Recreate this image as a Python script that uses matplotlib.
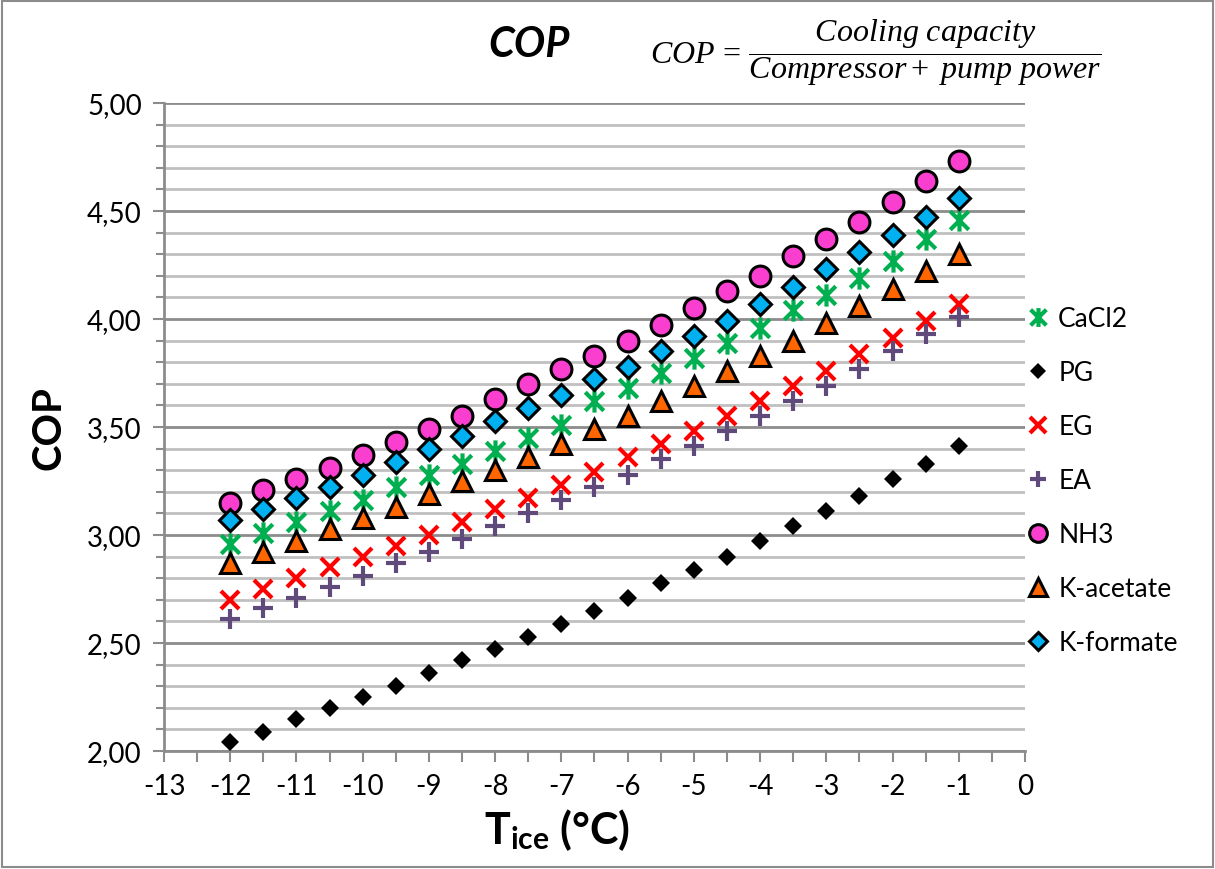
import matplotlib
matplotlib.use("Agg")
import matplotlib.pyplot as plt
from matplotlib.path import Path
from matplotlib.patches import Rectangle
from matplotlib.ticker import MultipleLocator, FuncFormatter

plt.rcParams['font.family'] = ['Lato', 'DejaVu Sans']
plt.rcParams['mathtext.fontset'] = 'custom'
plt.rcParams['mathtext.it'] = 'Liberation Serif:italic'
plt.rcParams['mathtext.rm'] = 'Liberation Serif'
plt.rcParams['mathtext.bf'] = 'Lato:bold'

# Ice temperature (°C)
t_ice = [-12, -11.5, -11, -10.5, -10, -9.5, -9, -8.5, -8, -7.5, -7, -6.5,
         -6, -5.5, -5, -4.5, -4, -3.5, -3, -2.5, -2, -1.5, -1]

cop_cacl2 = [2.96, 3.01, 3.06, 3.11, 3.16, 3.22, 3.28, 3.33, 3.39, 3.45, 3.51, 3.62,
             3.68, 3.75, 3.82, 3.89, 3.96, 4.04, 4.11, 4.19, 4.27, 4.37, 4.46]
cop_pg = [2.04, 2.09, 2.15, 2.20, 2.25, 2.30, 2.36, 2.42, 2.47, 2.53, 2.59, 2.65,
          2.71, 2.78, 2.84, 2.90, 2.97, 3.04, 3.11, 3.18, 3.26, 3.33, 3.41]
cop_eg = [2.70, 2.75, 2.80, 2.85, 2.90, 2.95, 3.00, 3.06, 3.12, 3.17, 3.23, 3.29,
          3.36, 3.42, 3.48, 3.55, 3.62, 3.69, 3.76, 3.84, 3.91, 3.99, 4.07]
cop_ea = [2.61, 2.66, 2.71, 2.76, 2.81, 2.87, 2.92, 2.98, 3.04, 3.10, 3.16, 3.22,
          3.28, 3.35, 3.41, 3.48, 3.55, 3.62, 3.69, 3.77, 3.85, 3.93, 4.01]
cop_nh3 = [3.15, 3.21, 3.26, 3.31, 3.37, 3.43, 3.49, 3.55, 3.63, 3.70, 3.77, 3.83,
           3.90, 3.97, 4.05, 4.13, 4.20, 4.29, 4.37, 4.45, 4.54, 4.64, 4.73]
cop_kacetate = [2.87, 2.92, 2.97, 3.03, 3.08, 3.13, 3.19, 3.25, 3.30, 3.36, 3.42, 3.49,
                3.55, 3.62, 3.69, 3.76, 3.83, 3.90, 3.98, 4.06, 4.14, 4.22, 4.30]
cop_kformate = [3.07, 3.12, 3.17, 3.22, 3.28, 3.34, 3.40, 3.46, 3.53, 3.59, 3.65, 3.72,
                3.78, 3.85, 3.92, 3.99, 4.07, 4.15, 4.23, 4.31, 4.39, 4.47, 4.56]

x_ticks = list(range(-13, 1))
x_tick_labels = [str(v) for v in x_ticks]

# asterisk marker: an X crossed by a vertical stroke
star = Path([(-1, -1), (1, 1), (-1, 1), (1, -1), (0, -1.2), (0, 1.2)],
            [Path.MOVETO, Path.LINETO, Path.MOVETO, Path.LINETO, Path.MOVETO, Path.LINETO])

fig = plt.figure(figsize=(12.15, 8.7), dpi=100)
ax = fig.add_axes([0.135, 0.1356, 0.7086, 0.7449])

ax.plot(t_ice, cop_cacl2, ls='none', marker=star, ms=16, mew=3,
        color='#00B050', label='CaCl2', zorder=3)
ax.plot(t_ice, cop_pg, ls='none', marker='D', ms=9, mew=0,
        color='black', label='PG', zorder=3)
ax.plot(t_ice, cop_eg, ls='none', marker='x', ms=13, mew=3,
        color='#FF0000', label='EG', zorder=3)
ax.plot(t_ice, cop_ea, ls='none', marker='+', ms=14, mew=3,
        color='#604A7B', label='EA', zorder=3)
ax.plot(t_ice, cop_nh3, ls='none', marker='o', ms=15, mew=2.2,
        mfc='#F93ED0', mec='black', label='NH3', zorder=3)
ax.plot(t_ice, cop_kacetate, ls='none', marker='^', ms=15, mew=2.2,
        mfc='#FF6600', mec='black', label='K-acetate', zorder=3)
ax.plot(t_ice, cop_kformate, ls='none', marker='D', ms=11, mew=2.2,
        mfc='#00B0F0', mec='black', label='K-formate', zorder=3)

ax.set_xlim(-13, 0)
ax.set_ylim(2.0, 5.0)
ax.set_xticks(x_ticks)
ax.set_xticklabels(x_tick_labels)
ax.xaxis.set_minor_locator(MultipleLocator(0.5))
ax.yaxis.set_major_locator(MultipleLocator(0.5))
ax.yaxis.set_minor_locator(MultipleLocator(0.1))
ax.yaxis.set_major_formatter(FuncFormatter(lambda v, p: f"{v:.2f}".replace('.', ',')))

ax.set_axisbelow(True)
ax.yaxis.grid(True, which='major', color='#8C8C8C', lw=2)
ax.yaxis.grid(True, which='minor', color='#C0C0C0', lw=2)
ax.xaxis.grid(False, which='both')

for side in ('top', 'right'):
    ax.spines[side].set_visible(False)
for side in ('left', 'bottom'):
    ax.spines[side].set_color('#8C8C8C')
    ax.spines[side].set_linewidth(2)

ax.tick_params(axis='both', which='both', direction='out', color='#8C8C8C',
               width=1.5, labelsize=20, labelcolor='black')
ax.tick_params(axis='y', which='major', length=8, pad=8)
ax.tick_params(axis='y', which='minor', length=6)
ax.tick_params(axis='x', which='both', length=8, pad=8)

ax.set_ylabel('COP', fontsize=29, fontweight='bold', labelpad=14)
ax.set_xlabel(r'$\mathbf{T}_{\mathbf{ice}}$ (°C)', fontsize=31, fontweight='bold')
ax.xaxis.set_label_coords(0.456, -0.085)

leg = ax.legend(loc='center left', bbox_to_anchor=(0.985, 0.417), frameon=False,
                fontsize=19, handlelength=0.8, handletextpad=0.35, labelspacing=1.1,
                borderaxespad=0.2, markerscale=0.85)

fig.text(0.435, 0.948, 'COP', fontsize=30, fontweight='bold', fontstyle='italic',
         ha='center', va='center')
fig.text(0.535, 0.940,
         r'$COP\,=\,\dfrac{Cooling\ capacity}{Compressor+\ pump\ power}$',
         fontsize=23, ha='left', va='center')

fig.patches.append(Rectangle((0.002, 0.002), 0.996, 0.996, transform=fig.transFigure,
                             fill=False, edgecolor='#8C8C8C', lw=1.5))

fig.savefig('out.png', dpi=100)
